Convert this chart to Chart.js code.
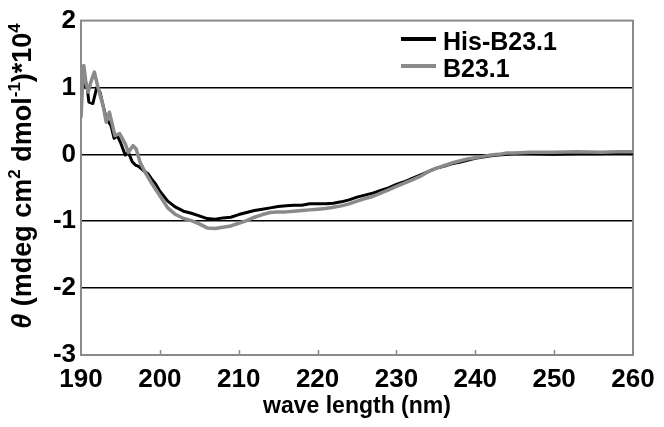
<!DOCTYPE html>
<html>
<head>
<meta charset="utf-8">
<script src="https://cdn.jsdelivr.net/npm/chart.js@4.4.1/dist/chart.umd.min.js"></script>
<style>
  html, body { margin: 0; padding: 0; background: #fff; }
  #wrap { width: 664px; height: 427px; }
</style>
</head>
<body>
<div id="wrap"><canvas id="cd-chart" width="664" height="427"></canvas></div>
<script>
// CD spectra, theta (mdeg cm2 dmol-1) * 10^4 vs wavelength (nm)
const hisWave = [190.0, 190.4, 190.8, 191.0, 191.5, 192.0, 192.4, 192.8, 193.2, 193.8, 194.2, 194.6,
  195.0, 195.6, 196.0, 196.5, 196.9, 197.3, 197.9, 198.5, 198.9, 199.5,
  200, 201, 202, 203, 204, 205, 206, 207, 208, 209, 210, 211, 212, 213, 214, 215, 216, 217, 218, 219,
  220, 221, 222, 223, 224, 225, 226, 227, 228, 229, 230, 231, 232, 233, 234, 235, 236, 237, 238, 239,
  240, 241, 242, 243, 244, 245, 247, 250, 253, 256, 258, 260];
const hisTheta = [0.92, 1.03, 0.98, 0.78, 0.76, 1.00, 0.93, 0.73, 0.54, 0.43, 0.24, 0.28,
  0.18, -0.01, 0.03, -0.11, -0.16, -0.18, -0.24, -0.29, -0.36, -0.45,
  -0.55, -0.70, -0.79, -0.85, -0.88, -0.92, -0.96, -0.97, -0.95, -0.94, -0.90, -0.87, -0.84, -0.82, -0.80, -0.78, -0.77, -0.76, -0.76, -0.74,
  -0.74, -0.74, -0.73, -0.71, -0.68, -0.64, -0.61, -0.58, -0.54, -0.50, -0.45, -0.41, -0.36, -0.31, -0.26, -0.21, -0.18, -0.14, -0.12, -0.09,
  -0.06, -0.04, -0.02, -0.01, 0.00, 0.01, 0.01, 0.00, 0.01, 0.01, 0.02, 0.01];

const b23Wave = [190.0, 190.2, 190.35, 190.6, 190.9, 191.3, 191.7, 192.2, 192.8, 193.2, 193.6, 194.3,
  194.9, 195.6, 196.0, 196.6, 197.0, 197.5, 198.1, 198.9, 199.5,
  200, 201, 202, 203, 204, 205, 206, 207, 208, 209, 210, 211, 212, 213, 214, 215, 216, 217, 218, 219,
  220, 221, 222, 223, 224, 225, 226, 227, 228, 229, 230, 231, 232, 233, 234, 235, 236, 237, 238, 239,
  240, 241, 242, 243, 244, 245, 247, 250, 253, 256, 258, 260];
const b23Theta = [0.55, 1.05, 1.33, 1.10, 0.93, 1.10, 1.23, 0.98, 0.73, 0.48, 0.63, 0.28,
  0.31, 0.16, 0.03, 0.13, 0.08, -0.12, -0.26, -0.42, -0.53,
  -0.62, -0.80, -0.90, -0.96, -0.99, -1.04, -1.10, -1.11, -1.09, -1.07, -1.03, -0.99, -0.94, -0.90, -0.87, -0.86, -0.86, -0.85, -0.84, -0.83,
  -0.82, -0.81, -0.79, -0.77, -0.74, -0.70, -0.66, -0.63, -0.58, -0.53, -0.48, -0.43, -0.38, -0.33, -0.26, -0.21, -0.17, -0.13, -0.10, -0.07,
  -0.05, -0.03, -0.01, 0.00, 0.02, 0.02, 0.03, 0.03, 0.04, 0.03, 0.04, 0.04];

const seriesNames = ['His-B23.1', 'B23.1'];
const xTicks = [190, 200, 210, 220, 230, 240, 250, 260];
const yTicks = [-3, -2, -1, 0, 1, 2];
const gridValues = [-2, -1, 0, 1];

const FONT = "'Liberation Sans', Arial, sans-serif";

function toPoints(xs, ys) {
  return xs.map((x, i) => ({ x: x, y: ys[i] }));
}

// gray frame around plot area + small inner ticks on the x axis
const framePlugin = {
  id: 'frame',
  beforeDatasetsDraw(chart) {
    const { ctx, chartArea: a, scales } = chart;
    ctx.save();
    ctx.strokeStyle = '#8a8a8a';
    ctx.lineWidth = 2;
    ctx.strokeRect(a.left, a.top, a.right - a.left, a.bottom - a.top);
    ctx.lineWidth = 1.5;
    xTicks.slice(1, -1).forEach(v => {
      const px = Math.round(scales.x.getPixelForValue(v)) + 0.5;
      ctx.beginPath();
      ctx.moveTo(px, a.bottom);
      ctx.lineTo(px, a.bottom - 5);
      ctx.stroke();
    });
    ctx.restore();
  }
};

// legend in the top right of the plot
const legendPlugin = {
  id: 'cornerLegend',
  afterDraw(chart) {
    const ctx = chart.ctx;
    const rows = [39, 66];
    ctx.save();
    ctx.font = 'bold 25px ' + FONT;
    ctx.textBaseline = 'middle';
    seriesNames.forEach((name, i) => {
      const ds = chart.data.datasets[i];
      ctx.strokeStyle = ds.borderColor;
      ctx.lineWidth = 4;
      ctx.beginPath();
      ctx.moveTo(401, rows[i]);
      ctx.lineTo(436, rows[i]);
      ctx.stroke();
      ctx.fillStyle = '#000';
      ctx.fillText(name, 443, rows[i] + 4);
    });
    ctx.restore();
  }
};

// y title with italic theta and superscripts
const yTitlePlugin = {
  id: 'yTitle',
  afterDraw(chart) {
    const ctx = chart.ctx;
    const parts = [
      { t: '\u03B8', f: 'italic bold 27px ' + FONT, dy: 0 },
      { t: ' (mdeg cm', f: 'bold 27px ' + FONT, dy: 0 },
      { t: '2', f: 'bold 17px ' + FONT, dy: -9 },
      { t: ' dmol', f: 'bold 27px ' + FONT, dy: 0 },
      { t: '-1', f: 'bold 17px ' + FONT, dy: -9 },
      { t: ')*10', f: 'bold 27px ' + FONT, dy: 0 },
      { t: '4', f: 'bold 17px ' + FONT, dy: -9 }
    ];
    ctx.save();
    let total = 0;
    parts.forEach(p => { ctx.font = p.f; p.w = ctx.measureText(p.t).width; total += p.w; });
    ctx.translate(24, 176);
    ctx.rotate(-Math.PI / 2);
    ctx.fillStyle = '#000';
    ctx.textBaseline = 'middle';
    let x = -total / 2;
    parts.forEach(p => {
      ctx.font = p.f;
      ctx.fillText(p.t, x, p.dy);
      x += p.w;
    });
    ctx.restore();
  }
};

new Chart(document.getElementById('cd-chart').getContext('2d'), {
  type: 'line',
  data: {
    datasets: [{
      label: seriesNames[0],
      data: toPoints(hisWave, hisTheta),
      borderColor: '#000000',
      borderWidth: 3,
      pointRadius: 0,
      tension: 0,
      borderJoinStyle: 'round',
      order: 1
    }, {
      label: seriesNames[1],
      data: toPoints(b23Wave, b23Theta),
      borderColor: '#8a8a8a',
      borderWidth: 3.5,
      pointRadius: 0,
      tension: 0,
      borderJoinStyle: 'round',
      order: 0
    }]
  },
  options: {
    responsive: false,
    animation: false,
    layout: { padding: { left: 0, right: 31, top: 19, bottom: 0 } },
    plugins: {
      legend: { display: false },
      tooltip: { enabled: false }
    },
    scales: {
      x: {
        type: 'linear',
        min: 190,
        max: 260,
        afterFit: s => { s.height = 72; },
        afterBuildTicks: s => { s.ticks = xTicks.map(v => ({ value: v })); },
        ticks: {
          autoSkip: false,
          maxRotation: 0,
          padding: 9,
          color: '#000',
          font: { family: FONT, size: 26, weight: 'bold' }
        },
        grid: { display: false, drawTicks: false },
        border: { display: false },
        title: {
          display: true,
          text: 'wave length (nm)',
          color: '#000',
          padding: { top: 0, bottom: 7 },
          font: { family: FONT, size: 23, weight: 'bold' }
        }
      },
      y: {
        min: -3,
        max: 2,
        afterFit: s => { s.width = 81; },
        afterBuildTicks: s => { s.ticks = yTicks.map(v => ({ value: v })); },
        ticks: {
          padding: 5,
          color: '#000',
          font: { family: FONT, size: 26, weight: 'bold' }
        },
        grid: {
          drawTicks: false,
          lineWidth: 1.5,
          color: c => gridValues.includes(c.tick.value) ? '#000' : 'rgba(0,0,0,0)'
        },
        border: { display: false }
      }
    }
  },
  plugins: [framePlugin, legendPlugin, yTitlePlugin]
});
</script>
</body>
</html>
